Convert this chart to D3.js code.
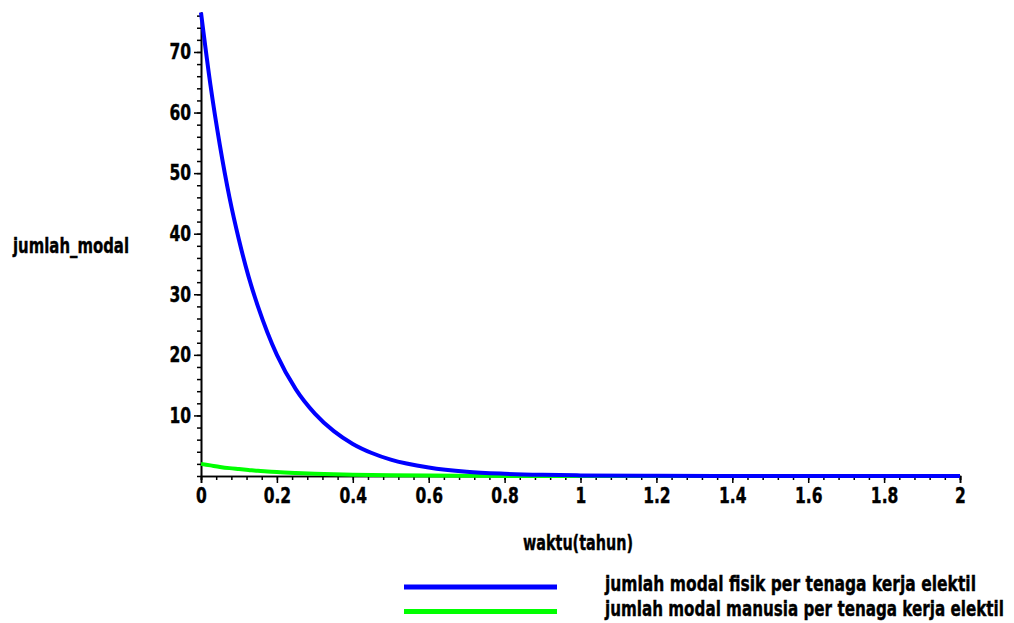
<!DOCTYPE html>
<meta charset="utf-8">
<style>
body { margin: 0; background: #fff; }
text { font-family: "DejaVu Sans", sans-serif; font-weight: bold; fill: #000; stroke: #000; stroke-width: 0.4px; }
</style>
<body>
<script src="https://cdn.jsdelivr.net/npm/d3@7/dist/d3.min.js"></script>
<script>

// time in years and the two series
var tahun = [0, 0.025, 0.05, 0.075, 0.1, 0.125, 0.15, 0.175, 0.2, 0.25, 0.3, 0.35, 0.4, 0.45, 0.5, 0.6, 0.7, 0.8, 0.9, 1.0, 1.2, 1.4, 1.6, 1.8, 2.0];
var modalFisik = [76.5, 64.5, 54.5, 46, 39, 33, 28, 23.7, 20, 14.3, 10.3, 7.4, 5.3, 3.8, 2.7, 1.4, 0.7, 0.37, 0.19, 0.1, 0.03, 0.01, 0, 0, 0];
var modalManusia = [2.0, 1.75, 1.5, 1.3, 1.15, 1.0, 0.85, 0.75, 0.65, 0.5, 0.38, 0.29, 0.22, 0.17, 0.13, 0.07, 0.04, 0.02, 0.015, 0.01, 0, 0, 0, 0, 0];

var xTicks = [0, 0.2, 0.4, 0.6, 0.8, 1, 1.2, 1.4, 1.6, 1.8, 2];
var yTicks = [10, 20, 30, 40, 50, 60, 70];
var legendLabels = ["jumlah modal fisik per tenaga kerja elektil", "jumlah modal manusia per tenaga kerja elektil"];
var colors = ["#0000ff", "#00ff00"];

var width = 1014, height = 623;
var squeeze = 0.74; // the original font is a narrow heavy face

var svg = d3.select("body").append("svg")
    .attr("width", width)
    .attr("height", height);

var x = d3.scaleLinear().domain([0, 2]).range([201, 960]);
var y = d3.scaleLinear().domain([0, 76.6]).range([476, 12]);

// minor ticks
var xMinor = d3.range(0, 2.0001, 0.04);
var yMinor = d3.range(0, 76.6, 2);

var xAxis = svg.append("g").attr("transform", "translate(0," + y(0) + ")");
xAxis.call(d3.axisBottom(x).tickValues(xMinor).tickSize(4).tickFormat(""));
xAxis.append("g").call(d3.axisBottom(x).tickValues(xTicks).tickSize(7)
    .tickFormat(function(d) { return d === 0 ? "0" : d3.format("")(d); }));
xAxis.selectAll(".domain").attr("stroke-width", 1.6);
xAxis.selectAll("line").attr("stroke-width", 1.5);
xAxis.selectAll("text")
    .attr("font-size", 21)
    .attr("dy", null)
    .attr("y", 27)
    .attr("transform", "scale(" + squeeze + ",1)");

var yAxis = svg.append("g").attr("transform", "translate(" + x(0) + ",0)");
yAxis.call(d3.axisLeft(y).tickValues(yMinor).tickSize(4).tickFormat("").tickSizeOuter(0));
yAxis.append("g").call(d3.axisLeft(y).tickValues(yTicks).tickSize(7).tickSizeOuter(0));
yAxis.selectAll(".domain").attr("stroke-width", 1.6);
yAxis.selectAll("line").attr("stroke-width", 1.5);
yAxis.selectAll("text")
    .attr("font-size", 21)
    .attr("x", -10 / squeeze)
    .attr("transform", "scale(" + squeeze + ",1)");

var line = d3.line()
    .x(function(d) { return x(d[0]); })
    .y(function(d) { return y(d[1]); })
    .curve(d3.curveMonotoneX);

var series = [modalManusia, modalFisik];
var seriesColors = [colors[1], colors[0]];
series.forEach(function(vals, i) {
  svg.append("path")
      .datum(tahun.map(function(t, j) { return [t, vals[j]]; }))
      .attr("fill", "none")
      .attr("stroke", seriesColors[i])
      .attr("stroke-width", 4)
      .attr("d", line);
});

// axis titles
svg.append("text")
    .attr("x", 13).attr("y", 253)
    .attr("font-size", 21)
    .attr("textLength", 116)
    .attr("lengthAdjust", "spacingAndGlyphs")
    .text("jumlah_modal");

svg.append("text")
    .attr("x", 523).attr("y", 550)
    .attr("font-size", 21)
    .attr("textLength", 110)
    .attr("lengthAdjust", "spacingAndGlyphs")
    .text("waktu(tahun)");

// legend
var legendWidths = [371, 399];
var legend = svg.append("g");
legendLabels.forEach(function(label, i) {
  var ly = 587 + i * 24.5;
  legend.append("line")
      .attr("x1", 404).attr("x2", 557)
      .attr("y1", ly).attr("y2", ly)
      .attr("stroke", colors[i])
      .attr("stroke-width", 5);
  legend.append("text")
      .attr("x", 605).attr("y", ly + 4)
      .attr("font-size", 21)
      .attr("textLength", legendWidths[i])
      .attr("lengthAdjust", "spacingAndGlyphs")
      .text(label);
});
</script>
</body>
